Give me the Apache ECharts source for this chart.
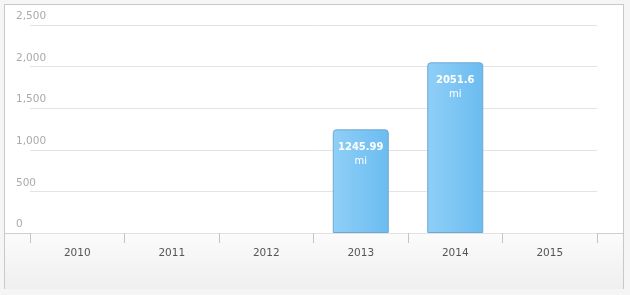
<!DOCTYPE html>
<html>
<head>
<meta charset="utf-8">
<script src="https://cdn.jsdelivr.net/npm/echarts@6/dist/echarts.min.js"></script>
<style>
  html, body { margin: 0; padding: 0; background: #f5f5f5; }
  #wrap { position: relative; width: 630px; height: 295px; overflow: hidden; }
  #frame { position: absolute; left: 4px; top: 4px; background: #fff; border: 1px solid #c9c9c9; box-sizing: border-box; width: 620px; height: 285px; }
  #foot { position: absolute; left: 5px; top: 233px; width: 618px; height: 55px; border-top: 1px solid #cfcfcf; background: linear-gradient(#fbfbfb, #efefef); }
  #chart { position: absolute; left: 0; top: 0; width: 630px; height: 295px; }
</style>
</head>
<body>
<div id="wrap">
  <div id="frame"></div>
  <div id="foot"></div>
  <div id="chart"></div>
</div>
<script>
const categories = ['2010', '2011', '2012', '2013', '2014', '2015'];
const distances = [null, null, null, 1245.99, 2051.6, null];
const unit = 'mi';
const yTicks = [0, 500, 1000, 1500, 2000, 2500];

const chart = echarts.init(document.getElementById('chart'), null, { renderer: 'canvas' });
const fontFam = '"DejaVu Sans", "Liberation Sans", sans-serif';
chart.setOption({
  animation: false,
  backgroundColor: 'transparent',
  grid: { left: 30, right: 33, top: 25, bottom: 62, containLabel: false },
  xAxis: {
    type: 'category',
    data: categories,
    axisLine: { show: false },
    axisTick: { show: true, length: 10, lineStyle: { color: '#c4c4c4' }, alignWithLabel: false },
    axisLabel: { color: '#555', fontSize: 10.5, fontFamily: fontFam, margin: 15 },
    splitLine: { show: false }
  },
  yAxis: {
    type: 'value',
    min: yTicks[0],
    max: yTicks[yTicks.length - 1],
    interval: 500,
    axisLine: { show: false },
    axisTick: { show: false },
    splitLine: { lineStyle: { color: '#e3e3e3', width: 1 } },
    axisLabel: {
      color: '#aaa', fontSize: 10.5, fontFamily: fontFam,
      align: 'left', margin: 14, verticalAlign: 'bottom', padding: [0, 0, 3, 0],
      formatter: v => v.toLocaleString('en-US')
    }
  },
  series: [{
    type: 'bar',
    data: distances,
    barWidth: 56,
    itemStyle: {
      color: new echarts.graphic.LinearGradient(0, 0, 1, 0, [
        { offset: 0, color: '#8fcff7' },
        { offset: 1, color: '#6bbcf0' }
      ]),
      borderColor: '#6ea8d2',
      borderWidth: 1,
      borderRadius: [3, 3, 0, 0]
    },
    label: {
      show: true,
      position: 'insideTop',
      distance: 11,
      formatter: p => p.value == null ? '' : '{v|' + p.value + '}\n{u|' + unit + '}',
      rich: {
        v: { color: '#fff', fontSize: 10, fontWeight: 'bold', fontFamily: fontFam, lineHeight: 14 },
        u: { color: '#fff', fontSize: 10, fontFamily: fontFam, lineHeight: 14 }
      }
    }
  }]
});
</script>
</body>
</html>
